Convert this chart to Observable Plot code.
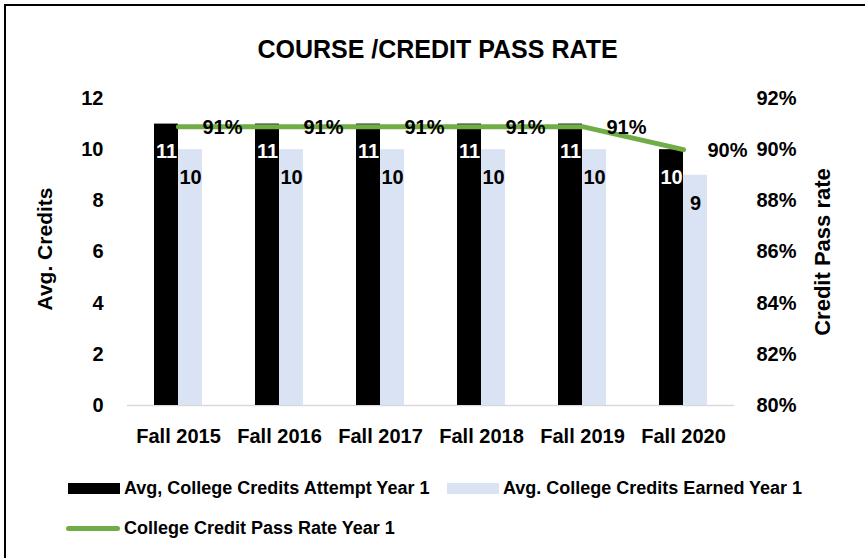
<!DOCTYPE html>
<html><head><meta charset="utf-8">
<script src="https://cdn.jsdelivr.net/npm/d3@7"></script>
<script src="https://cdn.jsdelivr.net/npm/@observablehq/plot@0.6"></script>
<style>
body{margin:0;background:#fff;font-family:"Liberation Sans",Arial,sans-serif;font-weight:bold;color:#000;}
#wrap{position:relative;width:865px;height:558px;overflow:hidden;background:#fff;}
#frame{position:absolute;left:4px;top:4px;width:900px;height:600px;border-left:2.5px solid #000;border-top:2.5px solid #000;}
#title{position:absolute;left:0;width:875px;top:37px;text-align:center;font-size:25px;line-height:25px;white-space:nowrap;}
#chart{position:absolute;left:0;top:80px;}
.leg{position:absolute;font-size:18px;line-height:18px;white-space:nowrap;}
.sw{position:absolute;}
</style>
</head><body>
<div id="wrap">
  <div id="frame"></div>
  <div id="title">COURSE /CREDIT PASS RATE</div>
  <div id="chart"></div>
  <div class="sw" style="left:68px;top:483px;width:52px;height:11px;background:#000;"></div>
  <div class="leg" id="leg1" style="left:124px;top:479px;"></div>
  <div class="sw" style="left:447px;top:483px;width:52px;height:11px;background:#DAE3F3;"></div>
  <div class="leg" id="leg2" style="left:503px;top:479px;"></div>
  <div class="sw" style="left:66px;top:526px;width:54px;height:5px;border-radius:3px;background:#70AD47;"></div>
  <div class="leg" id="leg3" style="left:124px;top:519px;"></div>
</div>
<script>
const categories = ["Fall 2015", "Fall 2016", "Fall 2017", "Fall 2018", "Fall 2019", "Fall 2020"];
const attempted = [11, 11, 11, 11, 11, 10];
const earned = [10, 10, 10, 10, 10, 9];
const passRate = [90.9, 90.9, 90.9, 90.9, 90.9, 90.0];
const leftTicks = [0, 2, 4, 6, 8, 10, 12];
const rightTickLabels = ["80%", "82%", "84%", "86%", "88%", "90%", "92%"];
const rightBase = 80;
const seriesNames = ["Avg, College Credits Attempt Year 1", "Avg. College Credits Earned Year 1", "College Credit Pass Rate Year 1"];
const axisTitles = ["Avg. Credits", "Credit Pass rate"];

document.getElementById("leg1").textContent = seriesNames[0];
document.getElementById("leg2").textContent = seriesNames[1];
document.getElementById("leg3").textContent = seriesNames[2];

const rows = categories.map((c, i) => ({
  cat: c, attempted: attempted[i], earned: earned[i], rate: passRate[i], rateY: passRate[i] - rightBase
}));

const chart = Plot.plot({
  width: 865, height: 375,
  marginTop: 18, marginBottom: 50, marginLeft: 127, marginRight: 131,
  style: {fontFamily: '"Liberation Sans", Arial, sans-serif', fontWeight: "bold", fontSize: "20px", color: "#000", background: "transparent", overflow: "visible"},
  x: {domain: categories, paddingInner: 0.526, paddingOuter: 0.263, label: null},
  y: {domain: [0, 12], label: null},
  marks: [
    Plot.ruleY([0], {stroke: "#d9d9d9", strokeWidth: 1.5}),
    Plot.barY(rows, {x: "cat", y: "attempted", fill: "#000", insetRight: 24}),
    Plot.barY(rows, {x: "cat", y: "earned", fill: "#DAE3F3", insetLeft: 24}),
    Plot.line(rows, {x: "cat", y: "rateY", stroke: "#70AD47", strokeWidth: 5, strokeLinecap: "round", strokeLinejoin: "round"}),
    Plot.text(rows, {x: "cat", y: "attempted", text: d => String(d.attempted), fill: "#fff", dx: -12, dy: 28, fontSize: 20}),
    Plot.text(rows, {x: "cat", y: "earned", text: d => String(d.earned), fill: "#000", dx: 12, dy: 28, fontSize: 20}),
    Plot.text(rows, {x: "cat", y: "rateY", text: d => Math.round(d.rate) + "%", fill: "#000", textAnchor: "start", dx: 24, dy: 1, fontSize: 20}),
    Plot.axisX({tickSize: 0, tickPadding: 23, label: null}),
    Plot.axisY(leftTicks, {tickSize: 0, tickPadding: 24, label: null}),
    Plot.axisY(leftTicks, {anchor: "right", tickSize: 0, tickPadding: 22, label: null, tickFormat: d => rightTickLabels[leftTicks.indexOf(d)]}),
    Plot.text([axisTitles[0]], {frameAnchor: "left", text: d => d, rotate: -90, textAnchor: "middle", dx: -82, dy: -3, fontSize: 21, fill: "#000"}),
    Plot.text([axisTitles[1]], {frameAnchor: "right", text: d => d, rotate: -90, textAnchor: "middle", dx: 88, fontSize: 22, fill: "#000"})
  ]
});
document.getElementById("chart").appendChild(chart);
</script>
</body></html>
